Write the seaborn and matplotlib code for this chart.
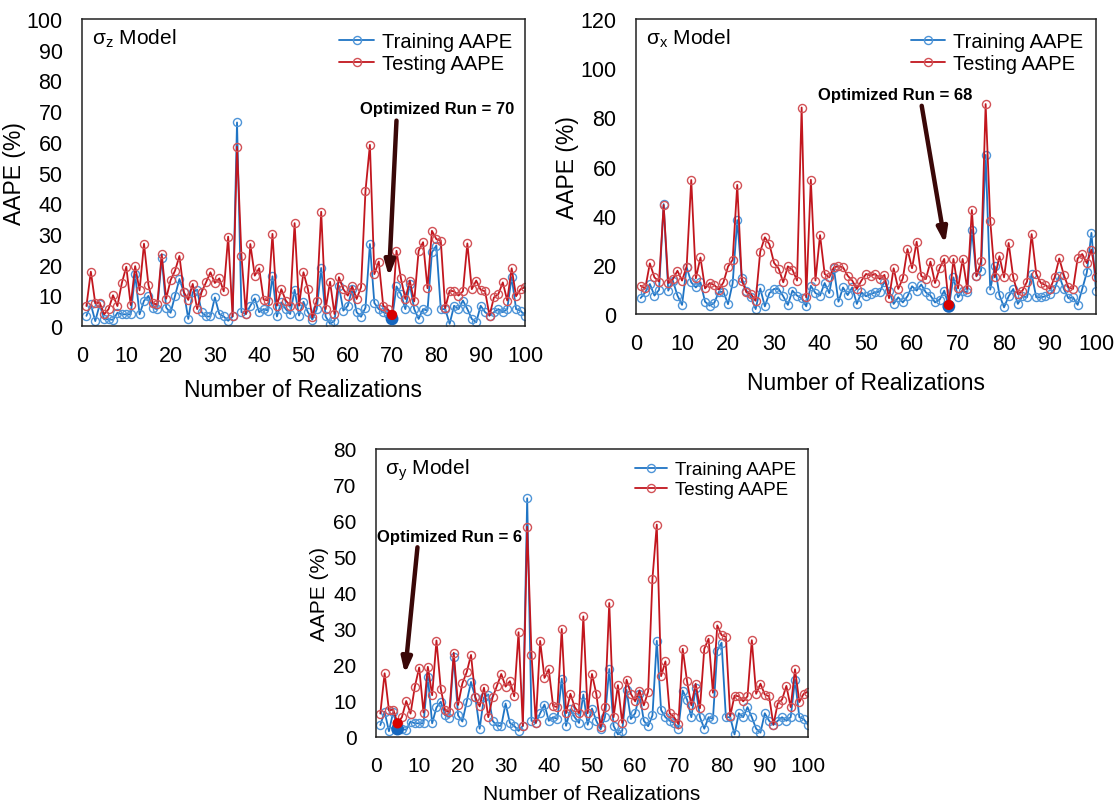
import numpy as np
import pandas as pd
import matplotlib
matplotlib.use('Agg')
import matplotlib.pyplot as plt
import seaborn as sns

# realization index
runs = list(range(1, 101))

# sigma_z model
sz_train = [3.3, 7, 1.6, 7, 2.2, 2.2, 2, 4.3, 3.8, 3.8,
            3.8, 16.8, 3.8, 8.2, 9.8, 6, 5.4, 22.3, 6, 4.3,
            9.8, 15.3, 11, 2.3, 11, 11.8, 4.5, 3.1, 3.1, 9.3,
            3.9, 3.1, 1.7, 3.1, 66.3, 4.5, 3.9, 6.6, 9, 4.5,
            5.5, 5, 16.2, 3.1, 7.7, 5.5, 3.9, 11.8, 3.4, 7.9,
            4.5, 2.1, 5.5, 18.9, 3.1, 0.7, 1.7, 13.1, 5, 6.6,
            12, 4.5, 3, 6, 26.7, 7.5, 5.5, 4.5, 3.9, 2.3,
            12.9, 10.4, 5.5, 13.7, 5.5, 2.3, 5.5, 5, 24, 26.2,
            5.5, 5.5, 0.7, 6.6, 5.5, 8.3, 5.5, 2.3, 1.2, 6.6,
            4.5, 3.4, 4.5, 5.5, 4.5, 5.5, 15.9, 5.5, 5, 3.4]
sz_test = [6.5, 17.7, 7.4, 7.6, 3.8, 5.5, 10, 6.5, 14, 19.3,
           6.8, 19.5, 11.6, 26.8, 13.4, 7.4, 7, 23.4, 8.9, 14.9,
           18, 22.8, 11, 8.5, 13.7, 5.5, 11, 14.2, 17.5, 14,
           15.5, 11.3, 29.1, 3.1, 58.4, 22.9, 3.9, 26.7, 16.4, 18.8,
           8.6, 8.3, 30, 6.6, 12, 8.3, 6.6, 33.5, 6.6, 17.5,
           12, 2.8, 8.3, 37.2, 5.5, 14.4, 3.9, 15.9, 12, 9.9,
           12.9, 8.8, 12.6, 44, 59, 16.9, 21, 6.6, 5.5, 3.6,
           24.5, 15.5, 8.8, 14.8, 8, 24.5, 27.3, 12.3, 31, 28.3,
           27.8, 5.8, 11.5, 11.3, 9.9, 11.3, 26.9, 12, 14.8, 11.8,
           11.3, 3.4, 9.3, 10.4, 14.2, 8.3, 18.8, 9.7, 12, 12.6]

# sigma_x model
sx_train = [6.5, 8.8, 12.2, 7.5, 9.8, 44.7, 9.5, 13.6, 7.5, 3.7,
            19, 12.9, 10.8, 12.9, 5, 3.4, 4.5, 9, 9, 4,
            12.5, 38.2, 14.5, 9.5, 6.8, 2, 10.4, 3.1, 8.5, 10.2,
            10.2, 7.2, 3.7, 9.5, 7.5, 6.4, 3.1, 11.5, 8.5, 7.5,
            12.6, 8.5, 18.6, 5, 10.8, 7.7, 10.8, 4.1, 8.8, 7.2,
            8.1, 8.8, 9.1, 13.2, 9.5, 4.1, 6.8, 4.7, 7.2, 11.3,
            9.5, 12, 8.8, 7.5, 4.7, 5.8, 9.5, 3.1, 14.9, 6.8,
            9.5, 8.8, 34.3, 15.6, 17.6, 64.7, 9.9, 19.4, 7.7, 2.7,
            7.2, 10.2, 4.1, 7.2, 6.8, 16.3, 6.8, 6.8, 7.2, 8.1,
            10.2, 15.6, 10.2, 6.4, 6.8, 3.7, 10.2, 16.9, 33, 9.5]
sx_test = [11.5, 10.4, 20.6, 14.9, 13.2, 44.3, 12.6, 14.2, 17.6, 13.6,
           19.3, 54.5, 14.5, 23, 10.4, 12.6, 11.8, 9.9, 12.9, 19.3,
           22, 52.5, 13.6, 8.8, 8.1, 5.4, 25.4, 31.2, 28.3, 20.8,
           18.5, 12.9, 19.4, 18, 13.6, 84, 6.8, 54.6, 13.6, 32.1,
           16.3, 14.9, 19, 19.4, 19, 15.6, 13.6, 10.2, 13.6, 16.3,
           15.6, 16.3, 14.2, 15.9, 6.4, 18.6, 10.2, 14.5, 26.4, 18.6,
           29.4, 15.5, 14.2, 21.3, 12.6, 18.6, 22.4, 3.7, 22.4, 10.4,
           22.4, 10.2, 42.3, 15.3, 21.4, 85.4, 38, 14.9, 23.5, 14.9,
           28.9, 14.9, 8.1, 9.5, 13.2, 32.5, 16.3, 12.6, 11.8, 10.2,
           14.9, 22.6, 15.9, 10.8, 10.2, 22.6, 24.4, 20.7, 26.2, 14.9]

# sigma_y model (same curves as sigma_z in the source figure)
sy_train = list(sz_train)
sy_test = list(sz_test)

opt_runs = {'z': 70, 'x': 68, 'y': 5}
opt_text = {'z': 'Optimized Run = 70', 'x': 'Optimized Run = 68', 'y': 'Optimized Run = 6'}

sns.set_style('white')
plt.rcParams['font.family'] = ['Liberation Sans', 'DejaVu Sans']
plt.rcParams['text.color'] = 'black'
plt.rcParams['axes.labelcolor'] = 'black'
plt.rcParams['xtick.color'] = 'black'
plt.rcParams['ytick.color'] = 'black'

blue = '#1F74C4'
blue_mk = '#4F95D8'
red = '#C2161E'
red_mk = '#D25257'

fig = plt.figure(figsize=(11.2, 8.04), dpi=100)


def draw_panel(rect, train, test, ymax, ystep, sub, key, txt_xy, arr_from, arr_to,
               fs_tick, fs_lab, fs_leg, xpad, ypad):
    ax = fig.add_axes(rect)
    df = pd.DataFrame({'run': runs, 'train': train, 'test': test})
    sns.lineplot(data=df, x='run', y='train', ax=ax, color=blue, lw=1.3,
                 marker='o', markersize=5.8, markerfacecolor='none',
                 markeredgecolor=blue_mk, markeredgewidth=1.0, label='Training AAPE')
    sns.lineplot(data=df, x='run', y='test', ax=ax, color=red, lw=1.3,
                 marker='o', markersize=5.8, markerfacecolor='none',
                 markeredgecolor=red_mk, markeredgewidth=1.0, label='Testing AAPE')

    i = runs.index(opt_runs[key])
    ax.scatter([runs[i]], [train[i]], s=85, color='#1667BF', zorder=5, edgecolor='none')
    ax.scatter([runs[i]], [test[i]], s=55, color='#D80000', zorder=6, edgecolor='none')

    ax.annotate('', xy=arr_to, xytext=arr_from,
                arrowprops=dict(arrowstyle='-|>,head_width=0.3,head_length=0.9',
                                lw=3.2, color='#3A0808', shrinkA=0, shrinkB=0))
    ax.text(txt_xy[0], txt_xy[1], opt_text[key], ha='center', va='center',
            fontsize=12, fontweight='bold')

    ax.text(0.022, 0.975, 'σ$_\\mathregular{' + sub + '}$ Model', transform=ax.transAxes,
            ha='left', va='top', fontsize=15)

    ax.set_xlim(0, 100)
    ax.set_ylim(0, ymax)
    ax.set_xticks(np.arange(0, 101, 10))
    ax.set_yticks(np.arange(0, ymax + 1, ystep))
    ax.tick_params(length=0, pad=14, labelsize=fs_tick)
    ax.set_xlabel('Number of Realizations', fontsize=fs_lab, labelpad=xpad)
    ax.set_ylabel('AAPE (%)', fontsize=fs_lab, labelpad=ypad)
    for s in ax.spines.values():
        s.set_color('#222222')
        s.set_linewidth(1.1)

    h, l = ax.get_legend_handles_labels()
    ax.legend(h[:2], l[:2], loc='upper right', frameon=False, fontsize=fs_leg,
              handlelength=1.7, borderaxespad=0.25, labelspacing=0.15, handletextpad=0.4)
    return ax


draw_panel([0.0732, 0.5933, 0.3955, 0.3818], sz_train, sz_test, 100, 10, 'z', 'z',
           (80.2, 70.7), (71, 66.9), (69.3, 16), 15.5, 16.5, 14.5, 8, 0)
draw_panel([0.5679, 0.6082, 0.4107, 0.3669], sx_train, sx_test, 120, 20, 'x', 'x',
           (56.3, 89.1), (62.1, 84.7), (67.2, 28.5), 15.5, 16.5, 14.5, 12, 1)
draw_panel([0.3357, 0.0821, 0.3857, 0.3582], sy_train, sy_test, 80, 10, 'y', 'y',
           (17.1, 55.6), (9.6, 52.7), (6.7, 17.5), 15, 15, 13.5, 6, 3)

fig.savefig('out.png', dpi=100)
